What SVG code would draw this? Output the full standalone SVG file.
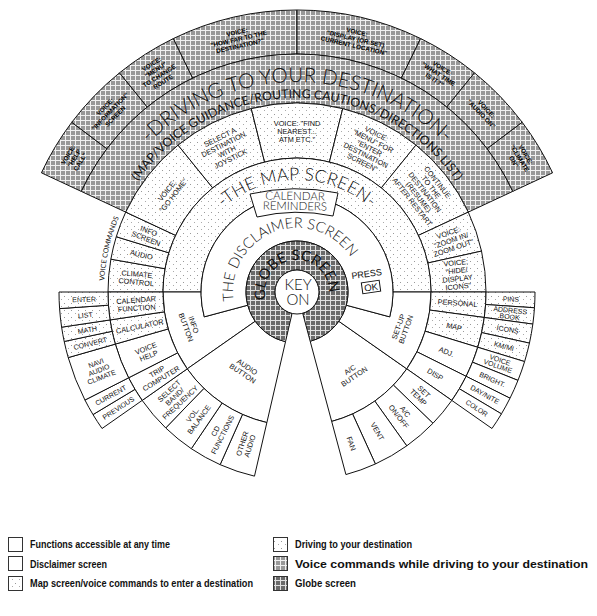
<svg xmlns="http://www.w3.org/2000/svg" width="597" height="616" viewBox="0 0 597 616">
<defs>
<pattern id="dots" width="7" height="7" patternUnits="userSpaceOnUse"><rect width="7" height="7" fill="#fff"/><rect x="1" y="2" width="1" height="1" fill="#999"/><rect x="5" y="5" width="1" height="1" fill="#aaa"/></pattern>
<pattern id="hatch" width="5" height="5" patternUnits="userSpaceOnUse"><rect width="5" height="5" fill="#989898"/><rect width="5" height="1" fill="#f0f0f0"/><rect width="1" height="5" fill="#f0f0f0"/></pattern>
<pattern id="globe" width="5" height="5" patternUnits="userSpaceOnUse"><rect width="5" height="5" fill="#6a6a6a"/><rect width="5" height="1" fill="#e0e0e0"/><rect width="1" height="5" fill="#e0e0e0"/></pattern>
<path id="pDrive" d="M 118.91 180.72 A 210 210 0 0 1 475.09 180.72"/>
<path id="pGuide" d="M 119.77 213.09 A 194 194 0 0 1 474.23 213.09"/>
<path id="pMap" d="M 219.20 211.43 A 112 112 0 0 1 374.80 211.43"/>
<path id="pDisc" d="M 236.86 313.89 A 64 64 0 0 1 356.75 269.06"/>
<path id="pGlobe" d="M 266.93 302.94 A 32 32 0 1 1 328.69 296.45"/>
<path id="pVC" d="M 104.26 281.90 A 193 193 0 0 1 119.34 216.59"/>
</defs>
<style>
.c{stroke:#111;stroke-width:1;fill:#fff}
.d{fill:url(#dots)}
.h{fill:url(#hatch)}
.g{fill:url(#globe)}
text{font-family:"Liberation Sans",Arial,sans-serif;fill:#111}
.l{font-size:7.3px;text-anchor:middle}
.s{font-size:6.3px;text-anchor:middle;font-weight:bold;fill:#000}
.o{font-size:7px;text-anchor:middle}
.arc{text-anchor:middle;font-family:Lato,"Liberation Sans",sans-serif}
.thin{font-family:Lato,"Liberation Sans",sans-serif;font-weight:300}
.leg{font-size:10px;font-weight:bold}
</style>
<rect width="597" height="616" fill="#fff"/>

<g id="outer-voice">
<g id="v-help"><path class="c h" d="M 81.30 191.42 L 41.42 172.82 A 282 282 0 0 1 71.78 122.29 L 106.92 148.77 A 238 238 0 0 0 81.30 191.42 Z"/>
<text class="s" transform="translate(74.1,158.1) rotate(-59)"><tspan x="0" y="-4.6">VOICE:</tspan><tspan x="0" y="2.4">"HELP</tspan><tspan x="0" y="9.4">CALL"</tspan></text></g>
<g id="v-info"><path class="c h" d="M 106.92 148.77 L 71.78 122.29 A 282 282 0 0 1 119.53 72.84 L 147.22 107.04 A 238 238 0 0 0 106.92 148.77 Z"/>
<text class="s" transform="translate(110,111.4) rotate(-46)"><tspan x="0" y="-4.6">VOICE:</tspan><tspan x="0" y="2.4">"INFORMATION"</tspan><tspan x="0" y="9.4">SCREEN</tspan></text></g>
<g id="v-menu"><path class="c h" d="M 147.22 107.04 L 119.53 72.84 A 282 282 0 0 1 173.38 38.54 L 192.67 78.09 A 238 238 0 0 0 147.22 107.04 Z"/>
<text class="s" transform="translate(157.3,72.7) rotate(-32.5)"><tspan x="0" y="-8.1">VOICE:</tspan><tspan x="0" y="-1.1">"MENU"</tspan><tspan x="0" y="5.9">TO CHANGE</tspan><tspan x="0" y="12.9">ROUTE</tspan></text></g>
<g id="v-howfar"><path class="c h" d="M 192.67 78.09 L 173.38 38.54 A 282 282 0 0 1 297 10 L 297 54 A 238 238 0 0 0 192.67 78.09 Z"/>
<text class="s" transform="translate(238.5,38.7) rotate(-13)"><tspan x="0" y="-4.6">VOICE:</tspan><tspan x="0" y="2.4">"HOW FAR TO THE</tspan><tspan x="0" y="9.4">DESTINATION?"</tspan></text></g>
<g id="v-display"><path class="c h" d="M 297 54 L 297 10 A 282 282 0 0 1 420.62 38.54 L 401.33 78.09 A 238 238 0 0 0 297 54 Z"/>
<text class="s" transform="translate(355.5,38.7) rotate(13)"><tspan x="0" y="-4.6">VOICE:</tspan><tspan x="0" y="2.4">"DISPLAY (OR SET)</tspan><tspan x="0" y="9.4">CURRENT LOCATION"</tspan></text></g>
<g id="v-time"><path class="c h" d="M 401.33 78.09 L 420.62 38.54 A 282 282 0 0 1 474.47 72.84 L 446.78 107.04 A 238 238 0 0 0 401.33 78.09 Z"/>
<text class="s" transform="translate(438.6,73.9) rotate(33)"><tspan x="0" y="-4.6">VOICE:</tspan><tspan x="0" y="2.4">"WHAT TIME</tspan><tspan x="0" y="9.4">IS IT?"</tspan></text></g>
<g id="v-audio"><path class="c h" d="M 446.78 107.04 L 474.47 72.84 A 282 282 0 0 1 522.22 122.29 L 487.08 148.77 A 238 238 0 0 0 446.78 107.04 Z"/>
<text class="s" transform="translate(484,111.4) rotate(46)"><tspan x="0" y="-1.1">VOICE:</tspan><tspan x="0" y="5.9">"AUDIO ON"</tspan></text></g>
<g id="v-climate"><path class="c h" d="M 487.08 148.77 L 522.22 122.29 A 282 282 0 0 1 552.58 172.82 L 512.70 191.42 A 238 238 0 0 0 487.08 148.77 Z"/>
<text class="s" transform="translate(519.9,158.1) rotate(59)"><tspan x="0" y="-4.6">VOICE:</tspan><tspan x="0" y="2.4">"CLIMATE</tspan><tspan x="0" y="9.4">ON"</tspan></text></g>
</g>

<g id="driving">
<path class="c h" d="M 125.71 212.12 L 81.30 191.42 A 238 238 0 0 1 512.70 191.42 L 468.29 212.12 A 189 189 0 0 0 125.71 212.12 Z"/>
<text class="arc" font-size="20.5" font-weight="300"><textPath href="#pDrive" startOffset="50%">-DRIVING TO YOUR DESTINATION-</textPath></text>
<text class="arc" font-size="12.3"><textPath href="#pGuide" startOffset="50%">(MAP/VOICE GUIDANCE/ROUTING CAUTIONS/DIRECTIONS LIST)</textPath></text>
</g>

<g id="map-voice">
<g id="m-climate"><path class="c d" d="M 163 292 L 108 292 A 189 189 0 0 1 110.87 259.18 L 165.04 268.73 A 134 134 0 0 0 163 292 Z"/>
<text class="l" transform="translate(136.6,278) rotate(5)"><tspan x="0" y="-1.3">CLIMATE</tspan><tspan x="0" y="6.7">CONTROL</tspan></text></g>
<g id="m-audio"><path class="c d" d="M 165.04 268.73 L 110.87 259.18 A 189 189 0 0 1 116.26 236.74 L 168.86 252.82 A 134 134 0 0 0 165.04 268.73 Z"/>
<text class="l" transform="translate(141.5,254.6) rotate(13.5)"><tspan x="0" y="2.7">AUDIO</tspan></text></g>
<g id="m-infoscreen"><path class="c d" d="M 168.86 252.82 L 116.26 236.74 A 189 189 0 0 1 125.71 212.12 L 175.55 235.37 A 134 134 0 0 0 168.86 252.82 Z"/>
<text class="l" transform="translate(147.5,234.6) rotate(21)"><tspan x="0" y="-1.3">INFO</tspan><tspan x="0" y="6.7">SCREEN</tspan></text></g>
<text class="arc" font-size="7"><textPath href="#pVC" startOffset="50%">VOICE COMMANDS</textPath></text>
<g id="m-gohome"><path class="c d" d="M 175.55 235.37 L 125.71 212.12 A 189 189 0 0 1 178.06 145.12 L 212.67 187.86 A 134 134 0 0 0 175.55 235.37 Z"/>
<text class="l" transform="translate(170.1,192.9) rotate(-52)"><tspan x="0" y="-1.3">VOICE:</tspan><tspan x="0" y="6.7">"GO HOME"</tspan></text></g>
<g id="m-select"><path class="c d" d="M 212.67 187.86 L 178.06 145.12 A 189 189 0 0 1 251.28 108.61 L 264.58 161.98 A 134 134 0 0 0 212.67 187.86 Z"/>
<text class="l" transform="translate(225.2,147.9) rotate(-26.5)"><tspan x="0" y="-9.3">SELECT A</tspan><tspan x="0" y="-1.3">DESTINATION</tspan><tspan x="0" y="6.7">WITH</tspan><tspan x="0" y="14.7">JOYSTICK</tspan></text></g>
<g id="m-find"><path class="c d" d="M 264.58 161.98 L 251.28 108.61 A 189 189 0 0 1 342.72 108.61 L 329.42 161.98 A 134 134 0 0 0 264.58 161.98 Z"/>
<text class="l" transform="translate(297,131)"><tspan x="0" y="-5.3">VOICE: "FIND</tspan><tspan x="0" y="2.7">NEAREST...</tspan><tspan x="0" y="10.7">ATM ETC."</tspan></text></g>
<g id="m-menu"><path class="c d" d="M 329.42 161.98 L 342.72 108.61 A 189 189 0 0 1 415.94 145.12 L 381.33 187.86 A 134 134 0 0 0 329.42 161.98 Z"/>
<text class="l" transform="translate(369.5,148) rotate(26.5)"><tspan x="0" y="-13.3">VOICE:</tspan><tspan x="0" y="-5.3">"MENU" FOR</tspan><tspan x="0" y="2.7">"ENTER</tspan><tspan x="0" y="10.7">DESTINATION</tspan><tspan x="0" y="18.7">SCREEN"</tspan></text></g>
<g id="m-continue"><path class="c d" d="M 381.33 187.86 L 415.94 145.12 A 189 189 0 0 1 468.29 212.12 L 418.45 235.37 A 134 134 0 0 0 381.33 187.86 Z"/>
<text class="l" transform="translate(425,192) rotate(52)"><tspan x="0" y="-13.3">CONTINUE</tspan><tspan x="0" y="-5.3">TO THE</tspan><tspan x="0" y="2.7">DESTINATION</tspan><tspan x="0" y="10.7">(RESUME)</tspan><tspan x="0" y="18.7">AFTER RESTART</tspan></text></g>
<g id="m-zoom"><path class="c d" d="M 418.45 235.37 L 468.29 212.12 A 189 189 0 0 1 481.52 251.09 L 427.82 263.00 A 134 134 0 0 0 418.45 235.37 Z"/>
<text class="l" transform="translate(451,240.2) rotate(-18.75)"><tspan x="0" y="-5.3">VOICE:</tspan><tspan x="0" y="2.7">"ZOOM IN/</tspan><tspan x="0" y="10.7">ZOOM OUT"</tspan></text></g>
<g id="m-hide"><path class="c d" d="M 427.82 263.00 L 481.52 251.09 A 189 189 0 0 1 486 292 L 431 292 A 134 134 0 0 0 427.82 263.00 Z"/>
<text class="l" transform="translate(457,274.5) rotate(-6.25)"><tspan x="0" y="-9.3">VOICE:</tspan><tspan x="0" y="-1.3">"HIDE/</tspan><tspan x="0" y="6.7">DISPLAY</tspan><tspan x="0" y="14.7">ICONS"</tspan></text></g>
</g>

<g id="map-screen">
<path class="c d" d="M 201 292 L 163 292 A 134 134 0 0 1 431 292 L 393 292 A 96 96 0 0 0 201 292 Z"/>
<text class="arc" font-size="17.5" font-weight="300" letter-spacing="0.2"><textPath href="#pMap" startOffset="50%">-THE MAP SCREEN-</textPath></text>
</g>

<g id="buttons">
<g id="info-button"><path class="c" d="M 255.22 321.25 A 51 51 0 0 1 247.74 305.20 L 204.27 316.85 A 96 96 0 0 1 201 292 L 163 292 A 134 134 0 0 0 187.23 368.86 Z"/>
<text class="l" transform="translate(190,326) rotate(70)"><tspan x="0" y="-1.3">INFO</tspan><tspan x="0" y="6.7">BUTTON</tspan></text></g>
<g id="audio-button"><path class="c" d="M 285.53 341.69 L 266.86 422.57 A 134 134 0 0 1 187.23 368.86 L 255.22 321.25 A 51 51 0 0 0 285.53 341.69 Z"/>
<text class="l" transform="translate(245,370) rotate(34)"><tspan x="0" y="-1.3">AUDIO</tspan><tspan x="0" y="6.7">BUTTON</tspan></text></g>
<g id="ac-button"><path class="c" d="M 338.78 321.25 L 406.77 368.86 A 134 134 0 0 1 331.68 421.43 L 310.20 341.26 A 51 51 0 0 0 338.78 321.25 Z"/>
<text class="l" transform="translate(352,373) rotate(-34)"><tspan x="0" y="-1.3">A/C</tspan><tspan x="0" y="6.7">BUTTON</tspan></text></g>
<g id="setup-button"><path class="c" d="M 346.26 305.20 A 51 51 0 0 1 338.78 321.25 L 406.77 368.86 A 134 134 0 0 0 431 292 L 393 292 A 96 96 0 0 1 389.73 316.85 Z"/>
<text class="l" transform="translate(402,328) rotate(-70)"><tspan x="0" y="-1.3">SET-UP</tspan><tspan x="0" y="6.7">BUTTON</tspan></text></g>
</g>

<g id="right-inner">
<g id="personal"><path class="c d" d="M 431 292 L 486 292 A 189 189 0 0 1 484.27 317.49 L 429.78 310.07 A 134 134 0 0 0 431 292 Z"/><text class="l" transform="translate(457.6,302.9) rotate(4)"><tspan x="0" y="2.7">PERSONAL</tspan></text></g>
<g id="map"><path class="c d" d="M 429.78 310.07 L 484.27 317.49 A 189 189 0 0 1 477.74 347.26 L 425.14 331.18 A 134 134 0 0 0 429.78 310.07 Z"/><text class="l" transform="translate(454.2,326.6) rotate(12)"><tspan x="0" y="2.7">MAP</tspan></text></g>
<g id="adj"><path class="c" d="M 425.14 331.18 L 477.74 347.26 A 189 189 0 0 1 466.14 376.33 L 416.92 351.79 A 134 134 0 0 0 425.14 331.18 Z"/><text class="l" transform="translate(446.5,351.7) rotate(22)"><tspan x="0" y="2.7">ADJ.</tspan></text></g>
<g id="disp"><path class="c" d="M 416.92 351.79 L 466.14 376.33 A 189 189 0 0 1 451.82 400.41 L 406.77 368.86 A 134 134 0 0 0 416.92 351.79 Z"/><text class="l" transform="translate(435.3,374.3) rotate(31)"><tspan x="0" y="2.7">DISP</tspan></text></g>
<g id="settemp"><path class="c" d="M 406.77 368.86 L 451.82 400.41 A 189 189 0 0 1 432.96 423.29 L 393.39 385.08 A 134 134 0 0 0 406.77 368.86 Z"/><text class="l" transform="translate(421.2,394.4) rotate(45)"><tspan x="0" y="-1.3">SET</tspan><tspan x="0" y="6.7">TEMP</tspan></text></g>
<g id="aconoff"><path class="c" d="M 393.39 385.08 L 432.96 423.29 A 189 189 0 0 1 406.75 445.87 L 374.81 401.09 A 134 134 0 0 0 393.39 385.08 Z"/><text class="l" transform="translate(402.1,414) rotate(52)"><tspan x="0" y="-1.3">A/C</tspan><tspan x="0" y="6.7">ON/OFF</tspan></text></g>
<g id="vent"><path class="c" d="M 374.81 401.09 L 406.75 445.87 A 189 189 0 0 1 375.38 463.98 L 352.57 413.93 A 134 134 0 0 0 374.81 401.09 Z"/><text class="l" transform="translate(377.5,431.4) rotate(60)"><tspan x="0" y="2.7">VENT</tspan></text></g>
<g id="fan"><path class="c" d="M 352.57 413.93 L 375.38 463.98 A 189 189 0 0 1 345.92 474.56 L 331.68 421.43 A 134 134 0 0 0 352.57 413.93 Z"/><text class="l" transform="translate(351.4,443.5) rotate(70)"><tspan x="0" y="2.7">FAN</tspan></text></g>
</g>

<g id="right-outer">
<g id="pins"><path class="c d" d="M 486 292 L 535 292 A 238 238 0 0 1 534.48 307.77 L 485.58 304.53 A 189 189 0 0 0 486 292 Z"/><text class="o" font-size="6.5" transform="translate(510.9,299.1) rotate(2)"><tspan x="0" y="2.4">PINS</tspan></text></g>
<g id="address"><path class="c d" d="M 485.58 304.53 L 534.48 307.77 A 238 238 0 0 1 532.83 324.09 L 484.27 317.49 A 189 189 0 0 0 485.58 304.53 Z"/><text class="o" font-size="6.5" transform="translate(509.9,313.6) rotate(6)"><tspan x="0" y="-0.9">ADDRESS</tspan><tspan x="0" y="5.6">BOOK</tspan></text></g>
<g id="icons"><path class="c d" d="M 484.27 317.49 L 532.83 324.09 A 238 238 0 0 1 529.45 343.11 L 481.59 332.59 A 189 189 0 0 0 484.27 317.49 Z"/><text class="o" font-size="6.5" transform="translate(507.7,329.5) rotate(10)"><tspan x="0" y="2.4">ICONS</tspan></text></g>
<g id="kmmi"><path class="c d" d="M 481.59 332.59 L 529.45 343.11 A 238 238 0 0 1 524.60 361.58 L 477.74 347.26 A 189 189 0 0 0 481.59 332.59 Z"/><text class="o" font-size="6.5" transform="translate(504,346.3) rotate(15)"><tspan x="0" y="2.4">KM/MI</tspan></text></g>
<g id="voicevol"><path class="c" d="M 477.74 347.26 L 524.60 361.58 A 238 238 0 0 1 517.98 380.39 L 472.48 362.19 A 189 189 0 0 0 477.74 347.26 Z"/><text class="o" font-size="6.5" transform="translate(498.9,363.1) rotate(19)"><tspan x="0" y="-0.9">VOICE</tspan><tspan x="0" y="5.6">VOLUME</tspan></text></g>
<g id="bright"><path class="c" d="M 472.48 362.19 L 517.98 380.39 A 238 238 0 0 1 510.00 398.20 L 466.14 376.33 A 189 189 0 0 0 472.48 362.19 Z"/><text class="o" font-size="6.5" transform="translate(492.3,379.6) rotate(24)"><tspan x="0" y="2.4">BRIGHT.</tspan></text></g>
<g id="daynite"><path class="c" d="M 466.14 376.33 L 510.00 398.20 A 238 238 0 0 1 501.43 413.87 L 459.34 388.78 A 189 189 0 0 0 466.14 376.33 Z"/><text class="o" font-size="6.5" transform="translate(484.8,394.6) rotate(29)"><tspan x="0" y="2.4">DAY/NITE</tspan></text></g>
<g id="color"><path class="c" d="M 459.34 388.78 L 501.43 413.87 A 238 238 0 0 1 491.96 428.51 L 451.82 400.41 A 189 189 0 0 0 459.34 388.78 Z"/><text class="o" font-size="6.5" transform="translate(476.7,408.2) rotate(33)"><tspan x="0" y="2.4">COLOR</tspan></text></g>
</g>

<g id="left-inner">
<g id="otheraudio"><path class="c" d="M 266.86 422.57 L 254.48 476.16 A 189 189 0 0 1 220.13 464.66 L 242.50 414.42 A 134 134 0 0 0 266.86 422.57 Z"/><text class="l" transform="translate(245.9,444.7) rotate(-72)"><tspan x="0" y="-1.3">OTHER</tspan><tspan x="0" y="6.7">AUDIO</tspan></text></g>
<g id="cd"><path class="c" d="M 242.50 414.42 L 220.13 464.66 A 189 189 0 0 1 191.31 448.69 L 222.07 403.09 A 134 134 0 0 0 242.50 414.42 Z"/><text class="l" transform="translate(218.9,432.8) rotate(-63)"><tspan x="0" y="-1.3">CD</tspan><tspan x="0" y="6.7">FUNCTIONS</tspan></text></g>
<g id="vol"><path class="c" d="M 222.07 403.09 L 191.31 448.69 A 189 189 0 0 1 165.71 427.96 L 203.92 388.39 A 134 134 0 0 0 222.07 403.09 Z"/><text class="l" transform="translate(195.7,417.1) rotate(-54)"><tspan x="0" y="-1.3">VOL.</tspan><tspan x="0" y="6.7">BALANCE</tspan></text></g>
<g id="selectband"><path class="c" d="M 203.92 388.39 L 165.71 427.96 A 189 189 0 0 1 142.18 400.41 L 187.23 368.86 A 134 134 0 0 0 203.92 388.39 Z"/><text class="l" transform="translate(174.6,396.6) rotate(-43)"><tspan x="0" y="-5.3">SELECT</tspan><tspan x="0" y="2.7">BAND/</tspan><tspan x="0" y="10.7">FREQUENCY</tspan></text></g>
<g id="trip"><path class="c" d="M 187.23 368.86 L 142.18 400.41 A 189 189 0 0 1 128.60 377.80 L 177.60 352.83 A 134 134 0 0 0 187.23 368.86 Z"/><text class="l" transform="translate(159,374.9) rotate(-31)"><tspan x="0" y="-1.3">TRIP</tspan><tspan x="0" y="6.7">COMPUTER</tspan></text></g>
<g id="voicehelp"><path class="c" d="M 177.60 352.83 L 128.60 377.80 A 189 189 0 0 1 115.32 344.10 L 168.19 328.94 A 134 134 0 0 0 177.60 352.83 Z"/><text class="l" transform="translate(147.2,352) rotate(-21.5)"><tspan x="0" y="-1.3">VOICE</tspan><tspan x="0" y="6.7">HELP</tspan></text></g>
<g id="calculator"><path class="c d" d="M 168.19 328.94 L 115.32 344.10 A 189 189 0 0 1 110.08 319.94 L 164.47 311.81 A 134 134 0 0 0 168.19 328.94 Z"/><text class="l" transform="translate(139.7,326.2) rotate(-12)"><tspan x="0" y="2.7">CALCULATOR</tspan></text></g>
<g id="calendar"><path class="c d" d="M 164.47 311.81 L 110.08 319.94 A 189 189 0 0 1 108 292 L 163 292 A 134 134 0 0 0 164.47 311.81 Z"/><text class="l" transform="translate(136.4,303.9) rotate(-4)"><tspan x="0" y="-1.3">CALENDAR</tspan><tspan x="0" y="6.7">FUNCTION</tspan></text></g>
</g>

<g id="left-outer">
<g id="previous"><path class="c" d="M 142.18 400.41 L 102.04 428.51 A 238 238 0 0 1 92.99 414.58 L 134.99 389.34 A 189 189 0 0 0 142.18 400.41 Z"/><text class="o" transform="translate(118.4,408) rotate(-33)"><tspan x="0" y="2.5">PREVIOUS</tspan></text></g>
<g id="current"><path class="c" d="M 134.99 389.34 L 92.99 414.58 A 238 238 0 0 1 84.94 400.05 L 128.60 377.80 A 189 189 0 0 0 134.99 389.34 Z"/><text class="o" transform="translate(110.7,395.3) rotate(-29)"><tspan x="0" y="2.5">CURRENT</tspan></text></g>
<g id="navi"><path class="c" d="M 128.60 377.80 L 84.94 400.05 A 238 238 0 0 1 68.22 357.60 L 115.32 344.10 A 189 189 0 0 0 128.60 377.80 Z"/><text class="o" transform="translate(98.8,370.1) rotate(-21.5)"><tspan x="0" y="-5">NAVI</tspan><tspan x="0" y="2.5">AUDIO</tspan><tspan x="0" y="10">CLIMATE</tspan></text></g>
<g id="convert"><path class="c d" d="M 115.32 344.10 L 68.22 357.60 A 238 238 0 0 1 64.20 341.48 L 112.13 331.29 A 189 189 0 0 0 115.32 344.10 Z"/><text class="o" transform="translate(90.3,343.5) rotate(-14)"><tspan x="0" y="2.5">CONVERT</tspan></text></g>
<g id="math"><path class="c d" d="M 112.13 331.29 L 64.20 341.48 A 238 238 0 0 1 61.61 327.18 L 110.08 319.94 A 189 189 0 0 0 112.13 331.29 Z"/><text class="o" transform="translate(87.4,329.9) rotate(-10)"><tspan x="0" y="2.5">MATH</tspan></text></g>
<g id="list"><path class="c d" d="M 110.08 319.94 L 61.61 327.18 A 238 238 0 0 1 59.58 308.60 L 108.46 305.18 A 189 189 0 0 0 110.08 319.94 Z"/><text class="o" transform="translate(85.3,315.2) rotate(-6)"><tspan x="0" y="2.5">LIST</tspan></text></g>
<g id="enter"><path class="c d" d="M 108.46 305.18 L 59.58 308.60 A 238 238 0 0 1 59 292 L 108 292 A 189 189 0 0 0 108.46 305.18 Z"/><text class="o" transform="translate(84.1,299.4) rotate(-2)"><tspan x="0" y="2.5">ENTER</tspan></text></g>
</g>

<g id="disclaimer">
<path class="c" d="M 247.74 305.20 L 204.27 316.85 A 96 96 0 1 1 389.73 316.85 L 346.26 305.20 A 51 51 0 1 0 247.74 305.20 Z"/>
<text class="arc" font-size="14.5" font-weight="300"><textPath href="#pDisc" startOffset="50%">THE DISCLAIMER SCREEN</textPath></text>
<text font-size="9" text-anchor="middle" transform="translate(367,277) rotate(-8)">PRESS</text>
<g transform="translate(371,287) rotate(-8)"><rect x="-9" y="-5.5" width="18" height="11" fill="#fff" stroke="#111"/><text font-size="9.5" text-anchor="middle" y="3.5">OK</text></g>
</g>

<g id="calendar-reminders">
<path class="c" d="M 250 194 Q 294 184 338 193 L 333 216 Q 295 208 257 217 Z"/>
<text class="thin" font-size="11.5" font-weight="400" text-anchor="middle" transform="translate(295,200) rotate(1)"><tspan x="0" y="0">CALENDAR</tspan><tspan x="0" y="10">REMINDERS</tspan></text>
</g>

<g id="globe-screen">
<path class="c g" d="M 292.05 313.44 L 285.53 341.69 A 51 51 0 1 1 310.20 341.26 L 302.69 313.25 A 22 22 0 1 0 292.05 313.44 Z"/>
<text class="arc" font-size="14.5" fill="#111" letter-spacing="0.3"><textPath href="#pGlobe" startOffset="50%">GLOBE SCREEN</textPath></text>
</g>

<g id="key-on">
<circle cx="297" cy="292" r="22" fill="#fff" stroke="#111"/>
<text class="thin" font-size="15" text-anchor="middle" x="298" y="290">KEY</text>
<text class="thin" font-size="15" text-anchor="middle" x="298" y="305">ON</text>
</g>

<g id="connectors"></g>

<g id="legend">
<rect x="8.5" y="537.5" width="14" height="14" fill="#fff" stroke="#333"/>
<text class="leg" x="30" y="548" textLength="140" lengthAdjust="spacingAndGlyphs">Functions accessible at any time</text>
<rect x="8.5" y="556.5" width="14" height="14" fill="#fff" stroke="#333"/>
<text class="leg" x="30" y="567.5" textLength="77" lengthAdjust="spacingAndGlyphs">Disclaimer screen</text>
<rect x="8.5" y="576.5" width="14" height="14" fill="url(#dots)" stroke="#333"/>
<text class="leg" x="30" y="586.5" textLength="223" lengthAdjust="spacingAndGlyphs">Map screen/voice commands to enter a destination</text>
<rect x="273.5" y="537.5" width="14" height="14" fill="url(#dots)" stroke="#333"/>
<text class="leg" x="295" y="548" textLength="117" lengthAdjust="spacingAndGlyphs">Driving to your destination</text>
<rect x="273.5" y="556.5" width="14" height="14" fill="url(#hatch)" stroke="#333"/>
<text class="leg" x="295" y="567.5" textLength="293" lengthAdjust="spacingAndGlyphs">Voice commands while driving to your destination</text>
<rect x="273.5" y="576.5" width="14" height="14" fill="url(#globe)" stroke="#333"/>
<text class="leg" x="295" y="586.5" textLength="61" lengthAdjust="spacingAndGlyphs">Globe screen</text>
</g>
</svg>
